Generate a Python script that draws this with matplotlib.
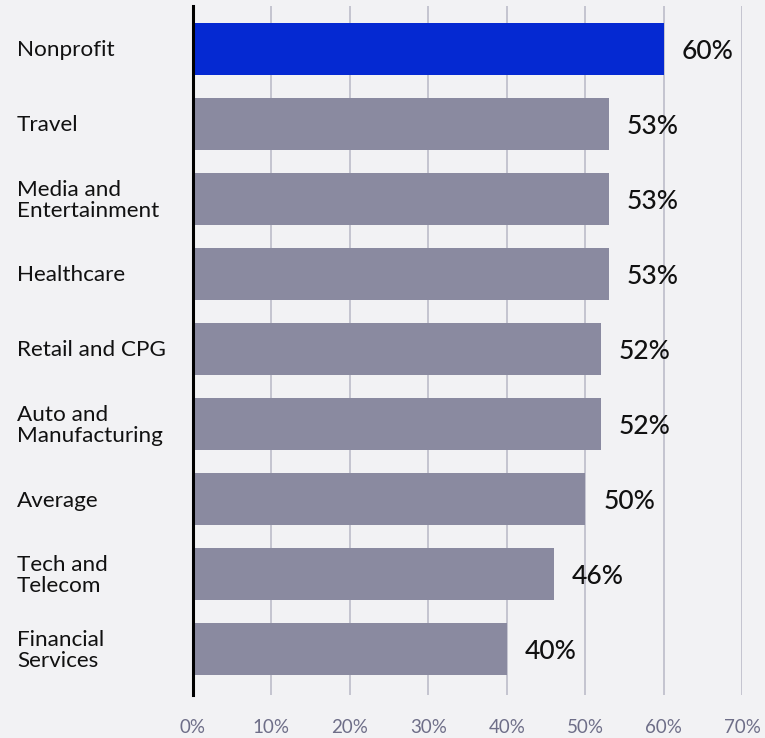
import matplotlib.pyplot as plt
import matplotlib.transforms as mtransforms

# share of respondents per industry
categories = ['Nonprofit', 'Travel', 'Media and\nEntertainment', 'Healthcare',
              'Retail and CPG', 'Auto and\nManufacturing', 'Average',
              'Tech and\nTelecom', 'Financial\nServices']
values = [60, 53, 53, 53, 52, 52, 50, 46, 40]
tick_values = [0, 10, 20, 30, 40, 50, 60, 70]

bg = '#f2f2f4'
bar_gray = '#8a8aa0'
bar_blue = '#0529d2'

plt.rcParams['font.family'] = ['Lato', 'DejaVu Sans']

fig = plt.figure(figsize=(7.65, 7.38), dpi=100, facecolor=bg)
ax = fig.add_axes([193 / 765, 1 - 695 / 738, (742 - 193) / 765, (695 - 6) / 738])
ax.set_facecolor(bg)

colors = [bar_blue] + [bar_gray] * (len(values) - 1)
ypos = list(range(len(values)))
ax.barh(ypos, values, height=0.7, color=colors, zorder=3)

ax.set_xlim(0, 70)
ax.set_ylim(len(values) - 1 + 0.613, -0.573)

# grid lines
ax.set_xticks(tick_values)
ax.set_xticklabels([f'{t}%' for t in tick_values], fontsize=13.5, color='#6e6e88')
ax.tick_params(axis='x', length=0, pad=17)
ax.set_yticks([])
for t in tick_values[1:]:
    ax.axvline(t, color='#c4c4d0', lw=1.4, zorder=1)

for side in ['top', 'right', 'bottom']:
    ax.spines[side].set_visible(False)
ax.spines['left'].set_color('black')
ax.spines['left'].set_linewidth(2.2)
ax.spines['left'].set_zorder(5)

# value labels
for y, v in zip(ypos, values):
    ax.annotate(f'{v}%', xy=(v, y), xytext=(13, -2), textcoords='offset points',
                ha='left', va='center', fontsize=19, fontweight='medium',
                color='#111111')

# category labels, left aligned near the figure edge
trans = mtransforms.blended_transform_factory(fig.transFigure, ax.transData)
for y, name in zip(ypos, categories):
    ax.text(17 / 765, y + 0.02, name, transform=trans, ha='left', va='center',
            fontsize=16.2, color='#111111', linespacing=1.1)

fig.savefig('out.png', dpi=100, facecolor=bg)
